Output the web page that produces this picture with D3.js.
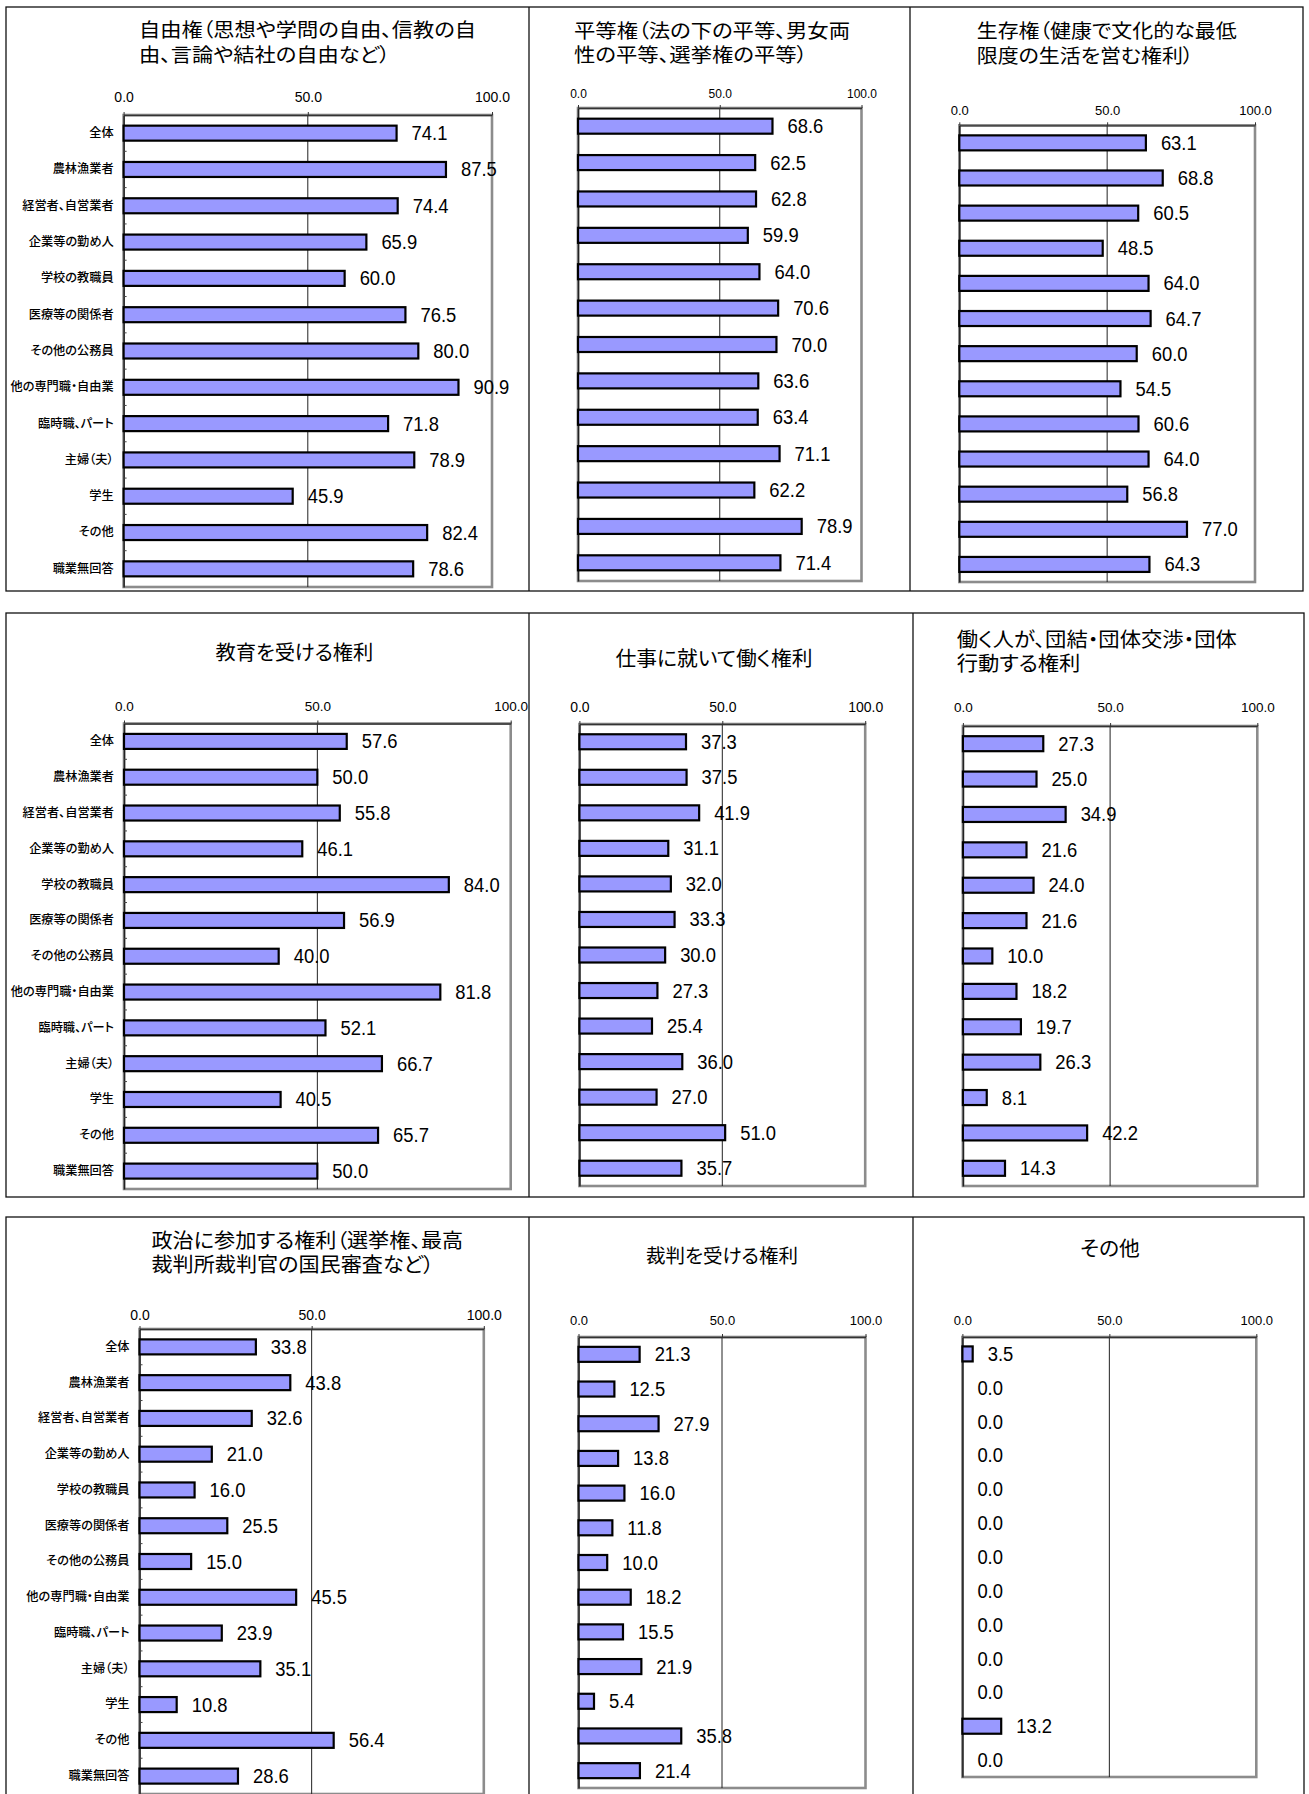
<!DOCTYPE html>
<html lang="ja">
<head>
<meta charset="utf-8">
<script src="https://cdn.jsdelivr.net/npm/d3@7"></script>
<style>
  html, body { margin: 0; padding: 0; background: #fff; }
  svg { display: block; }
  .jp { font-feature-settings: "palt" 1; }
</style>
</head>
<body>
<script>
// Occupation groups (rows of every panel)
const categories = [
  "全体", "農林漁業者", "経営者、自営業者", "企業等の勤め人", "学校の教職員",
  "医療等の関係者", "その他の公務員", "他の専門職・自由業", "臨時職、パート",
  "主婦（夫）", "学生", "その他", "職業無回答"
];

// Share (%) that named each right, per occupation group
const freedomValues   = [74.1, 87.5, 74.4, 65.9, 60.0, 76.5, 80.0, 90.9, 71.8, 78.9, 45.9, 82.4, 78.6];
const equalityValues  = [68.6, 62.5, 62.8, 59.9, 64.0, 70.6, 70.0, 63.6, 63.4, 71.1, 62.2, 78.9, 71.4];
const existenceValues = [63.1, 68.8, 60.5, 48.5, 64.0, 64.7, 60.0, 54.5, 60.6, 64.0, 56.8, 77.0, 64.3];
const educationValues = [57.6, 50.0, 55.8, 46.1, 84.0, 56.9, 40.0, 81.8, 52.1, 66.7, 40.5, 65.7, 50.0];
const workValues      = [37.3, 37.5, 41.9, 31.1, 32.0, 33.3, 30.0, 27.3, 25.4, 36.0, 27.0, 51.0, 35.7];
const laborValues     = [27.3, 25.0, 34.9, 21.6, 24.0, 21.6, 10.0, 18.2, 19.7, 26.3,  8.1, 42.2, 14.3];
const politicsValues  = [33.8, 43.8, 32.6, 21.0, 16.0, 25.5, 15.0, 45.5, 23.9, 35.1, 10.8, 56.4, 28.6];
const trialValues     = [21.3, 12.5, 27.9, 13.8, 16.0, 11.8, 10.0, 18.2, 15.5, 21.9,  5.4, 35.8, 21.4];
const otherValues     = [ 3.5,  0.0,  0.0,  0.0,  0.0,  0.0,  0.0,  0.0,  0.0,  0.0,  0.0, 13.2,  0.0];

// Panel titles (one entry per text line)
const freedomTitle   = ["自由権（思想や学問の自由、信教の自", "由、言論や結社の自由など）"];
const equalityTitle  = ["平等権（法の下の平等、男女両", "性の平等、選挙権の平等）"];
const existenceTitle = ["生存権（健康で文化的な最低", "限度の生活を営む権利）"];
const educationTitle = ["教育を受ける権利"];
const workTitle      = ["仕事に就いて働く権利"];
const laborTitle     = ["働く人が、団結・団体交渉・団体", "行動する権利"];
const politicsTitle  = ["政治に参加する権利（選挙権、最高", "裁判所裁判官の国民審査など）"];
const trialTitle     = ["裁判を受ける権利"];
const otherTitle     = ["その他"];

// Value axis
const axisDomain = [0, 100];
const tickValues = [0, 50, 100];
const gridValues = [50];

// ---- layout -------------------------------------------------------------
const W = 1309, H = 1794;
const svg = d3.select("body").append("svg").attr("width", W).attr("height", H);

const rowFrames = [
  { top: 7,    bottom: 591,  xs: [6, 529, 910, 1303] },
  { top: 613,  bottom: 1197, xs: [6, 529, 913, 1304] },
  { top: 1217, bottom: 1830, xs: [6, 529, 913, 1304] }
];

// plot: [x at 0, x at 100, top, bottom]; tt.w = width of the first title line (null = natural)
const panels = [
  { values: freedomValues,   title: freedomTitle,   plot: [123.6, 492,  115,   587],  tickY: 97,   tickSize: 14,  cats: true,
    tt: { x: 139,   ys: [28, 53],        anchor: "start",  size: 19.5, w: 337 } },
  { values: equalityValues,  title: equalityTitle,  plot: [578,   861.5, 108,  581],  tickY: 94,   tickSize: 12,  cats: false,
    tt: { x: 574,   ys: [29.3, 53.3],    anchor: "start",  size: 19.5, w: 276 } },
  { values: existenceValues, title: existenceTitle, plot: [959.3, 1255, 125.3,  582],  tickY: 110,  tickSize: 13,  cats: false,
    tt: { x: 976.7, ys: [29.3, 54.3],    anchor: "start",  size: 19.5, w: 260 } },
  { values: educationValues, title: educationTitle, plot: [124,   510.7, 723.5, 1189], tickY: 706.7, tickSize: 13.5, cats: true,
    tt: { x: 294.4, ys: [651],           anchor: "middle", size: 20, w: 158 } },
  { values: workValues,      title: workTitle,      plot: [579.4, 865.2, 724,  1186], tickY: 707.3, tickSize: 14, cats: false,
    tt: { x: 714,   ys: [657],           anchor: "middle", size: 20, w: 197 } },
  { values: laborValues,     title: laborTitle,     plot: [962.9, 1257.3, 726, 1186], tickY: 707,  tickSize: 13.5, cats: false,
    tt: { x: 956.8, ys: [638, 662],      anchor: "start",  size: 20, w: 280 } },
  { values: politicsValues,  title: politicsTitle,  plot: [139.5, 483.8, 1329, 1794], tickY: 1315, tickSize: 14, cats: true,
    tt: { x: 151.5, ys: [1239.3, 1263.3], anchor: "start", size: 20, w: 311.6 } },
  { values: trialValues,     title: trialTitle,     plot: [578.5, 865.5, 1337, 1788], tickY: 1320, tickSize: 13,  cats: false,
    tt: { x: 722,   ys: [1254],          anchor: "middle", size: 19.5, w: null } },
  { values: otherValues,     title: otherTitle,     plot: [962.4, 1256.3, 1337, 1777], tickY: 1320, tickSize: 13, cats: false,
    tt: { x: 1110,  ys: [1247],          anchor: "middle", size: 20, w: 59.5 } }
];

const BAR_H = 15;
const LABEL_GAP = 15;
const VALUE_SIZE = 20;
const VALUE_SQUEEZE = 0.92;
const fmt = d3.format(".1f");
const latin = "'Liberation Sans', Arial, sans-serif";
const cjk = "'Noto Sans CJK JP', 'Noto Sans', sans-serif";

// ---- outer frames -------------------------------------------------------
const frames = svg.append("g").attr("class", "frames");
rowFrames.forEach(r => {
  frames.append("rect")
    .attr("x", r.xs[0]).attr("y", r.top)
    .attr("width", r.xs[3] - r.xs[0]).attr("height", r.bottom - r.top)
    .attr("fill", "none").attr("stroke", "#111").attr("stroke-width", 1.3);
  r.xs.slice(1, 3).forEach(x => {
    frames.append("line")
      .attr("x1", x).attr("x2", x).attr("y1", r.top).attr("y2", r.bottom)
      .attr("stroke", "#111").attr("stroke-width", 1.3);
  });
});

// ---- panels -------------------------------------------------------------
panels.forEach(p => {
  const [x0, x1, top, bottom] = p.plot;
  const x = d3.scaleLinear().domain(axisDomain).range([x0, x1]);
  const y = d3.scaleBand().domain(categories).range([top, bottom]).padding(0);
  const g = svg.append("g");

  // title lines; glyphs are widened/narrowed together so the first line spans tt.w
  const lines = p.title.map((line, i) => g.append("text")
    .attr("class", "jp")
    .attr("x", p.tt.x).attr("y", p.tt.ys[i])
    .attr("dominant-baseline", "central")
    .attr("font-family", cjk).attr("font-size", p.tt.size)
    .attr("text-anchor", p.tt.anchor).attr("fill", "#000")
    .text(line));
  if (p.tt.w) {
    const stretch = p.tt.w / lines[0].node().getComputedTextLength();
    lines.forEach(t => {
      const len = t.node().getComputedTextLength() * stretch;
      t.attr("textLength", len).attr("lengthAdjust", "spacingAndGlyphs");
    });
  }

  // plot area border
  g.append("rect")
    .attr("x", x0).attr("y", top).attr("width", x1 - x0).attr("height", bottom - top)
    .attr("fill", "#fff").attr("stroke", "#8c8c8c").attr("stroke-width", 2.6);

  // gridline at 50
  g.selectAll(".grid").data(gridValues).join("line")
    .attr("x1", d => x(d)).attr("x2", d => x(d))
    .attr("y1", top).attr("y2", bottom)
    .attr("stroke", "#222").attr("stroke-width", 1);

  // top value axis
  const ax = g.append("g").attr("transform", `translate(0,${top})`)
    .call(d3.axisTop(x).tickValues(tickValues).tickFormat(fmt).tickSize(3).tickSizeOuter(0));
  ax.select(".domain").attr("stroke", "#333").attr("stroke-width", 1.3);
  ax.selectAll(".tick line").attr("stroke", "#333");
  ax.selectAll(".tick text")
    .attr("y", p.tickY - top).attr("dy", null)
    .attr("dominant-baseline", "central")
    .attr("font-family", latin).attr("font-size", p.tickSize).attr("fill", "#000");

  // left category axis
  const ay = g.append("g").attr("transform", `translate(${x0},0)`)
    .call(d3.axisLeft(y).tickSize(0).tickPadding(10).tickFormat(p.cats ? (d => d) : () => ""));
  ay.select(".domain").attr("stroke", "#222").attr("stroke-width", 1.5);
  ay.selectAll(".tick text")
    .attr("class", "jp")
    .attr("font-family", cjk).attr("font-size", 12.2).attr("font-weight", 500)
    .attr("fill", "#000");

  // small inward ticks between categories
  if (p.cats) {
    g.selectAll(".ctick").data(categories.slice(1)).join("line")
      .attr("x1", x0).attr("x2", x0 + 3)
      .attr("y1", d => y(d)).attr("y2", d => y(d))
      .attr("stroke", "#444").attr("stroke-width", 1);
  }

  const rows = categories.map((c, i) => ({ c, v: p.values[i] }));

  // bars
  g.selectAll(".bar").data(rows).join("rect")
    .attr("x", x(0))
    .attr("y", d => y(d.c) + y.bandwidth() / 2 - BAR_H / 2)
    .attr("width", d => x(d.v) - x(0))
    .attr("height", BAR_H)
    .attr("fill", "#9999ff").attr("stroke", "#000").attr("stroke-width", 2.2);

  // value labels (slightly narrowed digits)
  g.selectAll(".val").data(rows).join("text")
    .attr("x", d => x(d.v) + LABEL_GAP)
    .attr("y", d => y(d.c) + y.bandwidth() / 2)
    .attr("dominant-baseline", "central")
    .attr("font-family", latin).attr("font-size", VALUE_SIZE).attr("fill", "#000")
    .text(d => fmt(d.v))
    .each(function () {
      d3.select(this)
        .attr("textLength", this.getComputedTextLength() * VALUE_SQUEEZE)
        .attr("lengthAdjust", "spacingAndGlyphs");
    });
});
</script>
</body>
</html>
